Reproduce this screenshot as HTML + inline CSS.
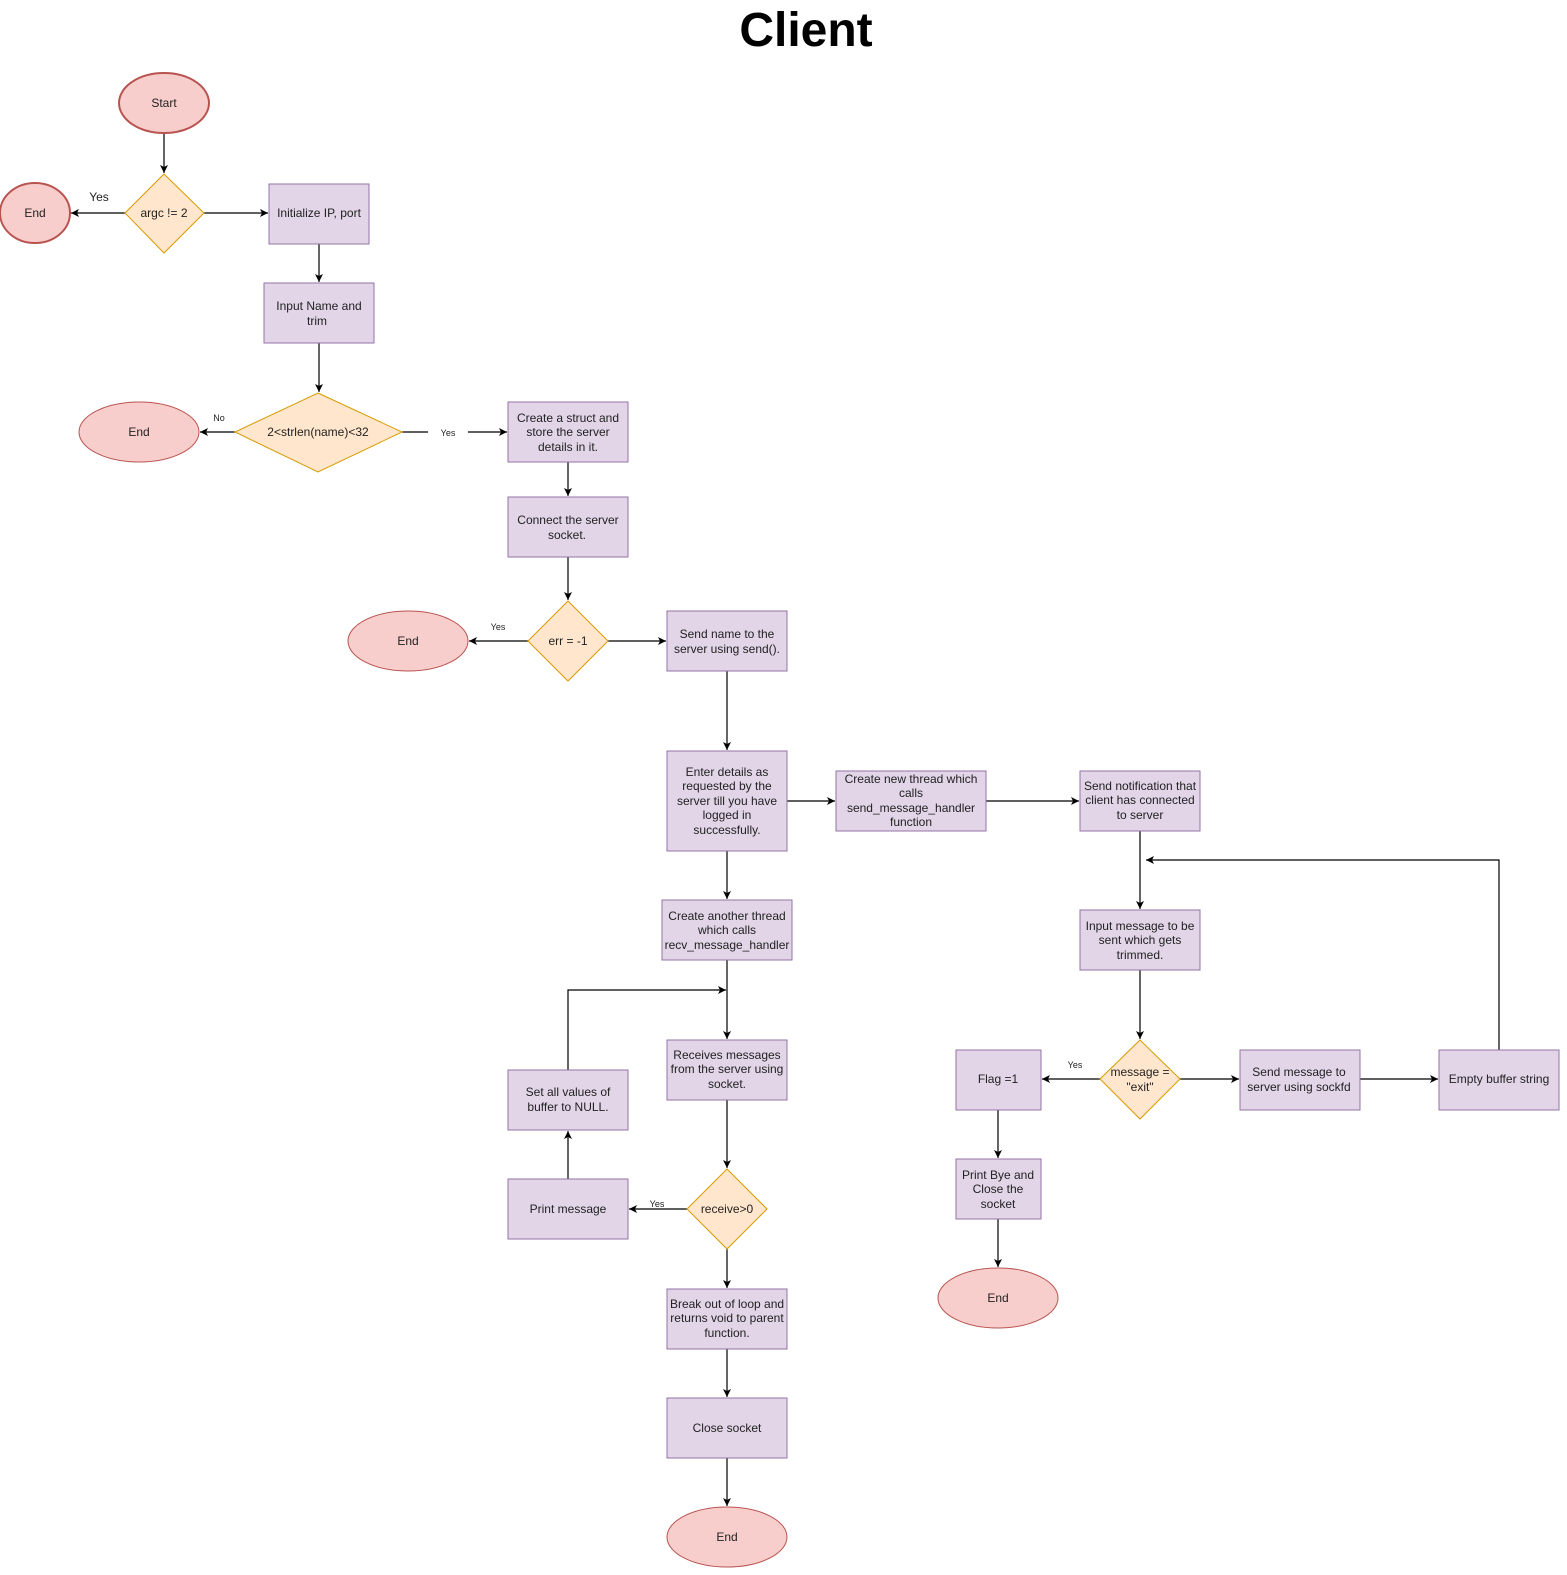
<!DOCTYPE html>
<html><head><style>html,body{margin:0;padding:0;background:#fff;overflow:hidden;width:1567px;height:1575px}svg{display:block}text{font-family:"Liberation Sans",Arial,sans-serif;font-size:12px;fill:#222}</style></head><body>
<svg width="1567" height="1575" viewBox="0 0 1567 1575" xmlns="http://www.w3.org/2000/svg">
<defs><marker id="a" markerWidth="10" markerHeight="10" refX="9" refY="5" orient="auto" markerUnits="userSpaceOnUse"><path d="M1,1 L9,5 L1,9 L3,5 Z" fill="#000"/></marker></defs>
<text x="806" y="46" text-anchor="middle" style="font-size:48px;font-weight:bold;fill:#000">Client</text>
<g fill="none" stroke="#000" stroke-width="1.2" marker-end="url(#a)">
<path d="M164,133 V173"/>
<path d="M125,213 H71"/>
<path d="M204,213 H268"/>
<path d="M319,244 V282"/>
<path d="M319,343 V392"/>
<path d="M235,432 H200"/>
<path d="M402,432 H507" />
<path d="M568,462 V496"/>
<path d="M568,557 V600"/>
<path d="M528,641 H469"/>
<path d="M608,641 H666"/>
<path d="M727,671 V750"/>
<path d="M787,801 H835"/>
<path d="M986,801 H1079"/>
<path d="M727,851 V899"/>
<path d="M727,960 V1039"/>
<path d="M568,1070 V990 H726"/>
<path d="M568,1179 V1131"/>
<path d="M727,1100 V1168"/>
<path d="M687,1209 H629"/>
<path d="M727,1249 V1288"/>
<path d="M727,1349 V1397"/>
<path d="M727,1458 V1506"/>
<path d="M1140,831 V909"/>
<path d="M1140,970 V1039"/>
<path d="M1100,1079 H1042"/>
<path d="M1180,1079 H1239"/>
<path d="M1360,1079 H1438"/>
<path d="M1499,1050 V860 H1146"/>
<path d="M998,1110 V1158"/>
<path d="M998,1219 V1267"/>
</g>
<rect x="428" y="424" width="40" height="16" fill="#fff"/>
<g fill="#f8cecc" stroke="#b85450">
<ellipse cx="164" cy="103" rx="45" ry="30" stroke-width="2"/>
<ellipse cx="35" cy="213" rx="35" ry="30" stroke-width="2"/>
<ellipse cx="139" cy="432" rx="60" ry="30"/>
<ellipse cx="408" cy="641" rx="60" ry="30"/>
<ellipse cx="727" cy="1537" rx="60" ry="30"/>
<ellipse cx="998" cy="1298" rx="60" ry="30"/>
</g>
<g fill="#ffe6cc" stroke="#d79b00">
<path d="M164,174 L204,213 L164,253 L125,213 Z"/>
<path d="M318,393 L402,432 L318,472 L235,432 Z"/>
<path d="M568,601 L608,641 L568,681 L528,641 Z"/>
<path d="M727,1169 L767,1209 L727,1249 L687,1209 Z"/>
<path d="M1140,1040 L1180,1079 L1140,1119 L1100,1079 Z"/>
</g>
<g fill="#e1d5e7" stroke="#9673a6">
<rect x="269" y="184" width="100" height="60"/>
<rect x="264" y="283" width="110" height="60"/>
<rect x="508" y="402" width="120" height="60"/>
<rect x="508" y="497" width="120" height="60"/>
<rect x="667" y="611" width="120" height="60"/>
<rect x="667" y="751" width="120" height="100"/>
<rect x="836" y="771" width="150" height="60"/>
<rect x="1080" y="771" width="120" height="60"/>
<rect x="662" y="900" width="130" height="60"/>
<rect x="667" y="1040" width="120" height="60"/>
<rect x="508" y="1070" width="120" height="60"/>
<rect x="508" y="1179" width="120" height="60"/>
<rect x="667" y="1289" width="120" height="60"/>
<rect x="667" y="1398" width="120" height="60"/>
<rect x="1080" y="910" width="120" height="60"/>
<rect x="956" y="1050" width="85" height="60"/>
<rect x="956" y="1159" width="85" height="60"/>
<rect x="1240" y="1050" width="120" height="60"/>
<rect x="1439" y="1050" width="120" height="60"/>
</g>
<g text-anchor="middle">
<text x="164" y="107">Start</text>
<text x="35" y="217">End</text>
<text x="164" y="217">argc != 2</text>
<text x="319" y="217">Initialize IP, port</text>
<text x="319" y="310">Input Name and</text><text x="317" y="325">trim</text>
<text x="139" y="436">End</text>
<text x="318" y="436">2&lt;strlen(name)&lt;32</text>
<text x="568" y="422">Create a struct and</text><text x="568" y="436">store the server</text><text x="568" y="451">details in it.</text>
<text x="568" y="524">Connect the server</text><text x="567" y="539">socket.</text>
<text x="408" y="645">End</text>
<text x="568" y="645">err = -1</text>
<text x="727" y="638">Send name to the</text><text x="727" y="653">server using send().</text>
<text x="727" y="776">Enter details as</text><text x="727" y="790">requested by the</text><text x="727" y="805">server till you have</text><text x="727" y="819">logged in</text><text x="727" y="834">successfully.</text>
<text x="911" y="783">Create new thread which</text><text x="911" y="797">calls</text><text x="911" y="812">send_message_handler</text><text x="911" y="826">function</text>
<text x="1140" y="790">Send notification that</text><text x="1140" y="804">client has connected</text><text x="1140" y="819">to server</text>
<text x="727" y="920">Create another thread</text><text x="727" y="934">which calls</text><text x="727" y="949">recv_message_handler</text>
<text x="727" y="1059">Receives messages</text><text x="727" y="1073">from the server using</text><text x="727" y="1088">socket.</text>
<text x="568" y="1096">Set all values of</text><text x="568" y="1111">buffer to NULL.</text>
<text x="568" y="1213">Print message</text>
<text x="727" y="1213">receive&gt;0</text>
<text x="727" y="1308">Break out of loop and</text><text x="727" y="1322">returns void to parent</text><text x="727" y="1337">function.</text>
<text x="727" y="1432">Close socket</text>
<text x="727" y="1541">End</text>
<text x="1140" y="930">Input message to be</text><text x="1140" y="944">sent which gets</text><text x="1140" y="959">trimmed.</text>
<text x="1140" y="1076">message =</text><text x="1140" y="1091">"exit"</text>
<text x="998" y="1083">Flag =1</text>
<text x="998" y="1179">Print Bye and</text><text x="998" y="1193">Close the</text><text x="998" y="1208">socket</text>
<text x="998" y="1302">End</text>
<text x="1299" y="1076">Send message to</text><text x="1299" y="1091">server using sockfd</text>
<text x="1499" y="1083">Empty buffer string</text>
<text x="99" y="201">Yes</text>
<text x="219" y="421" style="font-size:9px">No</text>
<text x="448" y="436" style="font-size:9px">Yes</text>
<text x="498" y="630" style="font-size:9px">Yes</text>
<text x="657" y="1207" style="font-size:9px">Yes</text>
<text x="1075" y="1068" style="font-size:9px">Yes</text>
</g>
</svg>
</body></html>
